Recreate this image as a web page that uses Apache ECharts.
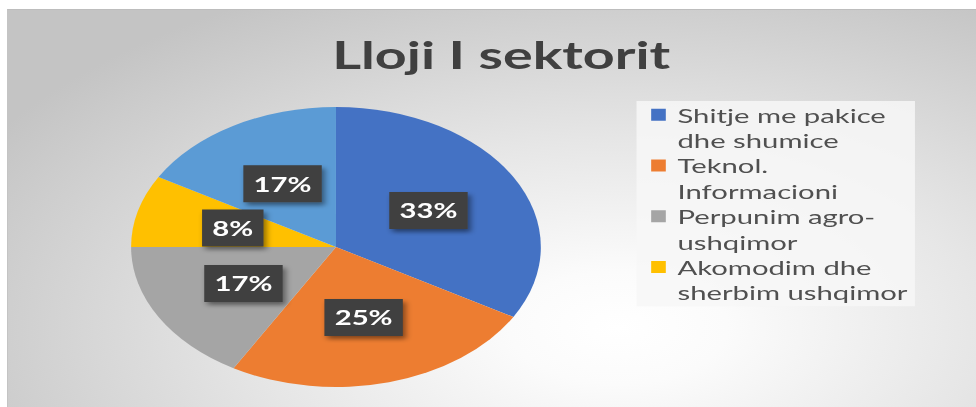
<!DOCTYPE html>
<html>
<head>
<meta charset="utf-8">
<script src="https://cdn.jsdelivr.net/npm/echarts@6/dist/echarts.min.js"></script>
<style>
  html, body { margin: 0; padding: 0; background: #fff; }
  #wrap {
    position: relative; width: 976px; height: 407px; overflow: hidden;
  }
  #bg {
    position: absolute; left: 7px; top: 9px; width: 969px; height: 397px;
    border-top: 1px solid #bdbdbd; border-left: 1px solid #c4c4c4;
    background: radial-gradient(ellipse 75% 95% at 63% 80%, #ffffff 0%, #fbfbfb 15%, #e6e6e6 50%, #c4c4c4 100%);
  }
  /* the picture is stretched sideways, so the chart is drawn narrow and scaled */
  #main {
    position: absolute; left: 0; top: 0; width: 667px; height: 407px;
    transform: scaleX(1.4633); transform-origin: 0 0;
  }
</style>
</head>
<body>
<div id="wrap">
  <div id="bg"></div>
  <div id="main"></div>
</div>
<script>
var categories = [
  'Shitje me pakice\ndhe shumice',
  'Teknol.\nInformacioni',
  'Perpunim agro-\nushqimor',
  'Akomodim dhe\nsherbim ushqimor',
  'Te tjera'
];
var counts = [4, 3, 2, 1, 2];
var colors = ['#4472C4', '#ED7D31', '#A5A5A5', '#FFC000', '#5B9BD5'];
var legendShown = categories.slice(0, 4);

var myChart = echarts.init(document.getElementById('main'), null, { renderer: 'svg' });
myChart.setOption({
  title: {
    show: true,
    text: 'Lloji I sektorit',
    left: 222,
    top: 30,
    textStyle: {
      color: '#404040',
      fontFamily: 'Lato',
      fontWeight: 'bold',
      fontSize: 38
    }
  },
  color: colors,
  legend: {
    orient: 'vertical',
    data: legendShown,
    left: 435,
    top: 101,
    padding: [1, 5, 1, 10],
    itemGap: 0,
    itemWidth: 10,
    itemHeight: 37.4,
    icon: 'path://M0,0H10V12H0ZM0,37.4H10',
    itemStyle: { borderWidth: 0 },
    backgroundColor: 'rgba(247,247,247,0.85)',
    selectedMode: false,
    textStyle: {
      color: '#505050',
      fontFamily: 'Lato',
      fontSize: 20,
      lineHeight: 25.4,
      padding: [0, 0, 0, 3]
    }
  },
  series: [
    {
      type: 'pie',
      center: [229.6, 247],
      radius: 140,
      startAngle: 90,
      clockwise: true,
      percentPrecision: 0,
      silent: true,
      itemStyle: { borderWidth: 0 },
      label: {
        show: true,
        position: 'inside',
        formatter: '{d}%',
        color: '#ffffff',
        fontFamily: 'Lato',
        fontWeight: 'bold',
        fontSize: 20,
        lineHeight: 20,
        backgroundColor: '#3f3f3f',
        padding: [9, 7, 8, 7],
        shadowColor: 'rgba(0,0,0,0.45)',
        shadowBlur: 4,
        shadowOffsetX: 2,
        shadowOffsetY: 3
      },
      labelLine: { show: false },
      data: categories.map(function (name, i) {
        return { name: name, value: counts[i] };
      })
    }
  ]
});
</script>
</body>
</html>
